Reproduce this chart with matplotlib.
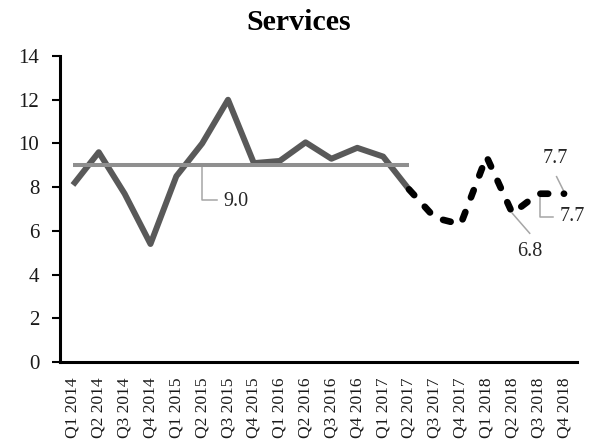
import matplotlib
matplotlib.use("Agg")
import matplotlib.pyplot as plt

# Quarterly categories
quarters = [f"Q{q} {y}" for y in range(2014, 2019) for q in range(1, 5)]

# Actual values Q1 2014 .. Q2 2017
actual = [8.1, 9.6, 7.7, 5.4, 8.5, 10.0, 12.0, 9.1, 9.2, 10.05, 9.3, 9.8, 9.4, 7.9]
# Projection Q2 2017 .. Q4 2018
projection = [7.9, 6.6, 6.3, 9.4, 6.8, 7.7, 7.7]
# Period average over the actual values
average = [9.0] * 14

plt.rcParams["font.family"] = ["Liberation Serif", "DejaVu Serif"]

fig = plt.figure(figsize=(5.97, 4.46), dpi=100)
ax = fig.add_axes([0.1005, 0.1883, 0.866, 0.6861])

x_act = list(range(len(actual)))
x_proj = list(range(len(actual) - 1, len(actual) - 1 + len(projection)))
x_avg = list(range(len(average)))

ax.plot(x_act, actual, color="#595959", lw=4.3, solid_joinstyle="round",
        solid_capstyle="butt", zorder=3)
ax.plot(x_proj, projection, color="#000000", lw=4.8,
        linestyle=(0, (1.17, 2.35)), dash_capstyle="round",
        dash_joinstyle="round", zorder=3)
ax.plot(x_avg, average, color="#8f8f8f", lw=2.9, solid_capstyle="butt", zorder=4)

leader = dict(color="#a6a6a6", lw=1.1, zorder=2)
label_kw = dict(fontsize=14.5, color="#262626")

# Average label with elbow leader
i = 5
ax.plot([i, i, i + 0.56], [average[i], 7.41, 7.41], **leader)
ax.text(i + 0.83, 7.36, f"{average[i]:.1f}", va="center", ha="left", **label_kw)

# Q2 2018 label
i = 4
xi = x_proj[i]
ax.plot([xi, xi + 0.67], [projection[i], 5.89], **leader)
ax.text(xi + 0.67, 5.05, f"{projection[i]:.1f}", va="center", ha="center", **label_kw)

# Q3 2018 label
i = 5
xi = x_proj[i]
ax.plot([xi + 0.07, xi + 0.07, xi + 0.57], [projection[i], 6.65, 6.65], **leader)
ax.text(xi + 0.84, 6.65, f"{projection[i]:.1f}", va="center", ha="left", **label_kw)

# Q4 2018 label
i = 6
xi = x_proj[i]
ax.plot([xi - 0.29, xi], [8.48, 7.79], **leader)
ax.text(xi - 0.35, 9.32, f"{projection[i]:.1f}", va="center", ha="center", **label_kw)

ax.set_xlim(-0.5, 19.5)
ax.set_ylim(0, 14)
ax.set_yticks(range(0, 15, 2))
ax.set_xticks(range(len(quarters)))
ax.set_xticklabels(quarters, rotation=90, fontsize=12.5, color="#1a1a1a")
ax.tick_params(axis="y", labelsize=15, length=6, width=1.5, pad=9, direction="out",
               labelcolor="#1a1a1a")
ax.tick_params(axis="x", length=0, pad=11)

for side in ("top", "right"):
    ax.spines[side].set_visible(False)
for side in ("left", "bottom"):
    ax.spines[side].set_linewidth(2.2)
    ax.spines[side].set_color("#000000")

fig.suptitle("Services", x=0.5, y=0.95, va="center", fontsize=21.5, fontweight="bold")

fig.savefig("out.png", dpi=100)
